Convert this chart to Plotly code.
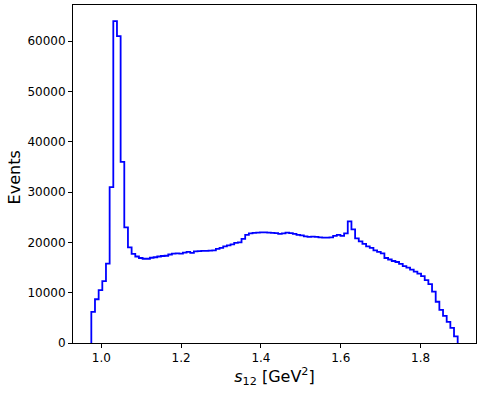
import numpy as np
import plotly.graph_objects as go

# Histogram range (s12 in GeV^2) and 100 bin counts
S_MIN = 0.975
S_MAX = 1.893
N_BINS = 100

counts = [
    6200, 8700, 10500, 12300, 15800, 31000, 64000, 61000, 36000, 23000,
    19000, 17700, 17200, 16900, 16750, 16750, 16950, 17050, 17200, 17300,
    17350, 17600, 17750, 17800, 17750, 17950, 18100, 17900, 18200, 18250,
    18300, 18300, 18350, 18400, 18700, 18900, 19200, 19400, 19600, 19900,
    20000, 20700, 21500, 21800, 21900, 21950, 22000, 22000, 21950, 21900,
    21850, 21700, 21800, 21950, 21850, 21700, 21500, 21400, 21200, 21100,
    21150, 21100, 21000, 20950, 20950, 21000, 21300, 21500, 21300, 21800,
    24200, 22600, 20800, 20200, 19700, 19200, 18900, 18400, 18100, 17800,
    16900, 16600, 16300, 16100, 15750, 15300, 15000, 14600, 14200, 13800,
    13300, 12500, 11700, 10200, 8200, 6600, 5400, 4200, 3000, 1300,
]

x_ticks = [1.0, 1.2, 1.4, 1.6, 1.8]
x_tick_labels = ["1.0", "1.2", "1.4", "1.6", "1.8"]
y_ticks = [0, 10000, 20000, 30000, 40000, 50000, 60000]
y_tick_labels = ["0", "10000", "20000", "30000", "40000", "50000", "60000"]

edges = np.linspace(S_MIN, S_MAX, N_BINS + 1)
# step outline (like matplotlib histtype='step')
xs = [edges[0]] + list(edges[:-1]) + [edges[-1]]
ys = [0] + list(counts) + [0]

span = S_MAX - S_MIN
x_range = [S_MIN - 0.05 * span, S_MAX + 0.05 * span]
y_range = [0, max(counts) * 1.05]

fig = go.Figure()
fig.add_trace(go.Scatter(
    x=xs, y=ys, mode="lines", line_shape="hv",
    line=dict(color="#0000ff", width=1.8),
    showlegend=False, hoverinfo="skip",
))

font_family = "DejaVu Sans, Arial, sans-serif"
fig.update_layout(
    width=489, height=395,
    margin=dict(l=73, r=13, t=5, b=52, autoexpand=False),
    paper_bgcolor="white", plot_bgcolor="white",
    font=dict(family=font_family, color="black", size=12),
    xaxis=dict(
        range=x_range, tickmode="array", tickvals=x_ticks, ticktext=x_tick_labels,
        showgrid=False, zeroline=False, showline=True, mirror=True,
        linecolor="black", linewidth=1, ticks="outside", ticklen=4,
        tickwidth=1, tickcolor="black", automargin=False,
        title=dict(text="<i>s</i><sub>12</sub> [GeV<sup>2</sup>]",
                   font=dict(size=16), standoff=4),
    ),
    yaxis=dict(
        range=y_range, tickmode="array", tickvals=y_ticks, ticktext=y_tick_labels,
        showgrid=False, zeroline=False, showline=True, mirror=True,
        linecolor="black", linewidth=1, ticks="outside", ticklen=4,
        tickwidth=1, tickcolor="black", automargin=False,
    ),
    annotations=[dict(
        text="Events", xref="paper", yref="paper",
        x=(14 - 73) / 403, y=0.49, xanchor="center", yanchor="middle",
        textangle=-90, showarrow=False, font=dict(size=16),
    )],
)

fig.write_html(
    "out.html",
    config={"displayModeBar": False},
    post_script="document.body.style.margin='0';document.body.style.padding='0';",
)
